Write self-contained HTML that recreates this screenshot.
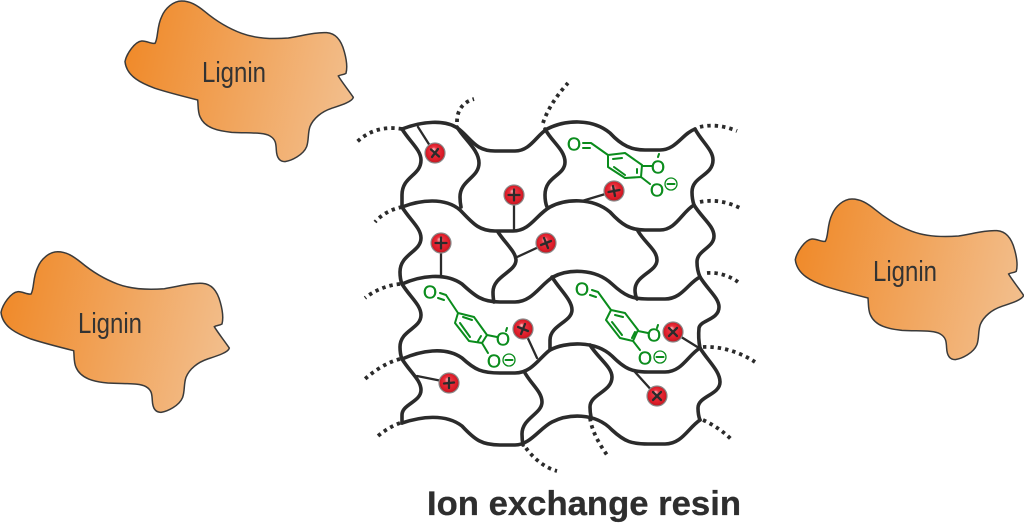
<!DOCTYPE html>
<html><head><meta charset="utf-8"><style>
html,body{margin:0;padding:0;background:#fff;width:1024px;height:524px;overflow:hidden}
svg{display:block}
text{font-family:"Liberation Sans",sans-serif}
.n{fill:none;stroke:#2b2b2b;stroke-width:3.6;stroke-linecap:round;stroke-linejoin:round}
.d{fill:none;stroke:#2b2b2b;stroke-width:3.8;stroke-dasharray:3.4 4}
.t{fill:none;stroke:#2b2b2b;stroke-width:2.3;stroke-linecap:round}
.g{fill:none;stroke:#0a8c1c;stroke-width:2;stroke-linecap:round;stroke-linejoin:round}
.o{fill:#0a8c1c;stroke:#0a8c1c;stroke-width:.4;font-size:18px;text-anchor:middle}
.l{fill:#333;font-size:29px}
</style></head><body>
<svg width="1024" height="524" viewBox="0 0 1024 524" xmlns="http://www.w3.org/2000/svg">
<defs>
<linearGradient id="lg" gradientUnits="userSpaceOnUse" x1="30" y1="180" x2="715" y2="330">
<stop offset="0" stop-color="#f08a2a"/><stop offset="1" stop-color="#f2bf8e"/>
</linearGradient>
<radialGradient id="rb" cx="0.5" cy="0.5" r="0.5" fx="0.42" fy="0.3">
<stop offset="0" stop-color="#fbc4c6"/><stop offset="0.32" stop-color="#ea3340"/><stop offset="0.8" stop-color="#dc1c28"/><stop offset="1" stop-color="#b51a22"/>
</radialGradient>
<g id="lig"><path transform="translate(115,0) scale(.3333)" fill="url(#lg)" stroke="#3a3a3a" stroke-width="4.5" d="M30 185 C35 160 60 125 80 123 C95 122 108 132 120 130 C130 115 125 80 140 50 C150 25 175 3 200 3 C225 3 245 15 270 35 C300 60 340 85 380 100 C420 115 470 118 520 114 C560 108 600 96 635 98 C665 100 680 125 688 155 C695 180 697 205 693 220 C685 225 675 224 670 228 C680 245 700 270 715 292 C712 305 680 315 650 325 C620 335 595 355 585 380 C578 400 582 420 575 440 C565 465 530 482 510 485 C492 485 485 470 484 450 C483 430 482 418 465 408 C445 396 400 400 350 397 C310 393 270 385 255 350 C248 335 250 315 248 300 C200 288 160 278 120 265 C80 250 35 230 30 185 Z"/></g>
<g id="b"><circle r="10" fill="url(#rb)" stroke="#8a8a8a" stroke-width="1.2"/></g>
</defs>

<use href="#lig"/>
<text class="l" x="202" y="82" textLength="64" lengthAdjust="spacingAndGlyphs">Lignin</text>
<use href="#lig" transform="translate(-124,250.7)"/>
<text class="l" x="78" y="333" textLength="64" lengthAdjust="spacingAndGlyphs">Lignin</text>
<use href="#lig" transform="translate(670.3,198)"/>
<text class="l" x="873" y="281" textLength="64" lengthAdjust="spacingAndGlyphs">Lignin</text>

<!-- horizontal wavy rows -->
<path class="n" d="M402 129 C420 122 446 118 460 130 C472 140 476 151 495 151 L515 151 C530 151 536 136 547 129 C565 120 592 118 610 133 C622 146 632 150 645 150 L660 150 C676 150 682 134 695 129"/>
<path class="n" d="M402 207 C420 200 445 197 460 210 C472 222 478 231 495 231 L513 231 C530 231 536 215 550 207 C565 199 592 197 610 212 C622 225 630 230 645 230 L660 230 C676 230 682 212 694 205"/>
<path class="n" d="M402 284 C420 276 445 272 462 284 C475 296 482 302 500 302 L515 302 C532 302 540 285 553 277 C568 269 595 268 612 284 C625 296 632 299 648 299 L665 299 C682 299 688 283 700 277"/>
<path class="n" d="M402 359 C420 351 445 346 462 358 C475 370 482 373 500 373 L515 373 C532 373 540 357 550 350 C565 342 595 340 612 356 C625 369 632 372 648 372 L665 372 C682 372 688 355 700 348"/>
<path class="n" d="M402 423 C420 417 445 413 462 426 C475 440 482 445 500 445 L515 445 C530 445 540 428 552 422 C568 414 595 412 612 430 C625 442 632 444 648 444 L665 444 C682 444 688 428 700 420"/>

<!-- vertical wavy connectors -->
<path class="n" d="M402 129 C410 142 421 150 421 160 C421 176 402 176 402 195 Q402 202 402 207"/>
<path class="n" d="M402 207 C410 220 421 228 421 238 C421 252 400 254 400 272 Q400 279 402 284"/>
<path class="n" d="M402 284 C410 297 421 305 421 315 C421 329 400 330 400 347 Q400 354 402 359"/>
<path class="n" d="M402 359 C410 372 421 380 421 390 C421 402 402 404 402 415 Q402 420 402 423"/>
<path class="n" d="M457 127 C465 140 479 150 479 163 C479 178 460 180 460 197 Q460 202 461 207"/>
<path class="n" d="M498 232 C505 243 516 252 516 260 C516 272 493 276 493 292 Q493 298 494 302"/>
<path class="n" d="M525 373 C532 385 542 392 542 402 C542 414 522 418 522 434 Q522 440 523 445"/>
<path class="n" d="M552 277 C560 290 572 300 572 310 C572 322 550 325 550 340 Q550 345 550 350"/>
<path class="n" d="M545 129 C552 142 565 150 565 162 C565 176 545 176 545 195 Q545 202 547 207"/>
<path class="n" d="M638 231 C645 243 657 250 657 260 C657 272 635 275 635 290 Q635 295 637 299"/>
<path class="n" d="M695 129 C702 142 713 150 713 160 C713 176 692 176 692 192 Q692 199 694 205"/>
<path class="n" d="M694 205 C702 218 714 226 714 236 C714 248 697 250 697 262 Q697 270 700 277"/>
<path class="n" d="M700 277 C708 290 719 298 719 307 C719 320 700 320 699 328 Q698 338 700 348"/>
<path class="n" d="M700 348 C708 361 720 371 720 382 C720 395 698 396 698 408 Q698 415 700 420"/>
<path class="n" d="M590 345 C598 358 612 367 612 377 C612 392 590 394 590 407 Q590 412 591 417"/>

<!-- dotted ends -->
<path class="d" d="M402 129 C385 126 368 130 355 144"/>
<path class="d" d="M457 122 C457 110 463 102 474 99"/>
<path class="d" d="M402 207 C392 209 382 214 375 222"/>
<path class="d" d="M543 123 C548 108 558 94 568 83"/>
<path class="d" d="M700 127 C712 124 725 126 737 131"/>
<path class="d" d="M700 202 C714 199 728 202 740 208"/>
<path class="d" d="M400 284 C388 285 375 290 365 298"/>
<path class="d" d="M400 359 C388 362 375 370 365 379"/>
<path class="d" d="M400 423 C392 426 385 430 378 436"/>
<path class="d" d="M526 448 C533 458 545 468 557 471"/>
<path class="d" d="M707 273 C718 272 730 276 738 282"/>
<path class="d" d="M703 347 C720 346 740 352 755 362"/>
<path class="d" d="M703 420 C714 425 724 432 732 440"/>
<path class="d" d="M590 418 C592 432 600 445 607 455"/>

<!-- ball tethers -->
<path class="t" d="M418 127L432 149M514 195V230M441 243V276M582 201L612 192M515 258L543 245M537 358L525 332M417 376L447 382M678 335L699 348M635 372L654 393"/>

<!-- molecule 1 -->
<path class="g" d="M583 143H591M583 148H590M591 143L608 155L625 153L642 165L641 177L625 178L608 167L608 155M613 159L622 158M614 167L625 175M637 169V173M642 166H652M659 154L658 157M641 177L650 184"/>
<text class="o" x="574" y="150.500">O</text>
<text class="o" x="658" y="173.500">O</text>
<text class="o" x="657" y="196.500">O</text>
<circle class="g" cx="671" cy="184" r="6" style="stroke-width:1.3"/><path class="g" d="M667.5 184H674.500"/>

<!-- molecule 2 -->
<path class="g" d="M438 298L444 300M440 293L446 295L458 313L474 317L487 335L482 343L469 341L455 323L458 313M463 317L472 320M460 323L470 337M481 336L478 341M487 335L497 337M507 328L506 331M482 343L488 353"/>
<text class="o" x="430" y="298.500">O</text>
<text class="o" x="503" y="345.500">O</text>
<text class="o" x="494" y="367.500">O</text>
<circle class="g" cx="509" cy="360" r="6" style="stroke-width:1.3"/><path class="g" d="M505.500 360H512.500"/>

<!-- molecule 3 -->
<path class="g" d="M590 295L596 297M592 290L598 292L611 310L625 313L638 330L633 341L620 338L606 320L611 310M615 315L623 317M612 322L622 335M635 332L632 338M638 331L648 333M658 325L657 328M633 341L640 350"/>
<text class="o" x="582" y="295.500">O</text>
<text class="o" x="654" y="341.500">O</text>
<text class="o" x="645" y="364.500">O</text>
<circle class="g" cx="660" cy="357" r="6" style="stroke-width:1.3"/><path class="g" d="M656.500 357H663.500"/>

<!-- balls -->
<use href="#b" x="435" y="153"/><path class="t" d="M431 149.500L439 156.500M438 149L432 157"/>
<use href="#b" x="514" y="195"/><path class="t" d="M508.500 195H519.500M514 189.500V200.500"/>
<use href="#b" x="441" y="243"/><path class="t" d="M435.500 243H446.500M441 237.500V248.500"/>
<use href="#b" x="614" y="191"/><path class="t" d="M608.500 192L619.500 190M613 186L615 196"/>
<use href="#b" x="546" y="243"/><path class="t" d="M541 245L551 241M544 238L548 248"/>
<use href="#b" x="523" y="329"/><path class="t" d="M518 327L528 331M525 324L521 334"/>
<use href="#b" x="449" y="383"/><path class="t" d="M444 383.500L454 382.500M449 378V388"/>
<use href="#b" x="673" y="332"/><path class="t" d="M669 328L677 336M677 328L669 336"/>
<use href="#b" x="657" y="396"/><path class="t" d="M653 392L661 400M661 392L653 400"/>

<text x="427" y="515" fill="#2e2e2e" stroke="#2e2e2e" stroke-width=".3" font-size="34" font-weight="bold" textLength="314" lengthAdjust="spacingAndGlyphs">Ion exchange resin</text>
</svg>
</body></html>
